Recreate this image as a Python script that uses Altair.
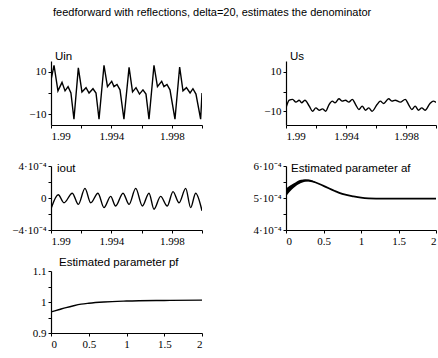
import altair as alt
import pandas as pd

TITLE = "feedforward with reflections, delta=20, estimates the denominator"

# ---- Uin (time, value)
uin_t = [1.99000, 1.99020, 1.99046, 1.99073, 1.99093, 1.99113, 1.99132, 1.99152,
         1.99181, 1.99205, 1.99232, 1.99252, 1.99278, 1.99298, 1.99318,
         1.99351, 1.99374, 1.99402, 1.99417, 1.99437, 1.99457, 1.99483,
         1.99517, 1.99540, 1.99563, 1.99586, 1.99609, 1.99629, 1.99649,
         1.99682, 1.99705, 1.99733, 1.99748, 1.99768, 1.99788, 1.99821,
         1.99852, 1.99874, 1.99897, 1.99921, 1.99940, 1.99960, 1.99991, 2.00000]
uin_v = [6, 13, 1, 5, 1, 3, 0, -12.3,
         11.8, 0.5, 2.5, 0, 2, 0, -12.3,
         13, 3, 5.5, 3, 4, 1.5, -12.3,
         12, 0.5, 2.5, -0.5, 1.5, -0.5, -12.3,
         13, 3, 5.5, 3, 4, 1.5, -12.3,
         12.2, 1, 2.5, 0, 2, -0.5, -12.3, 0]

# ---- Us
us_t = [1.99000, 1.99022, 1.99044, 1.99066, 1.99088, 1.99104, 1.99126, 1.99155,
        1.99177, 1.99199, 1.99221, 1.99243, 1.99265, 1.99287, 1.99309, 1.99327,
        1.99353, 1.99375, 1.99397, 1.99419, 1.99442, 1.99464, 1.99486, 1.99508,
        1.99530, 1.99552, 1.99574, 1.99607, 1.99629, 1.99651, 1.99684, 1.99707,
        1.99728, 1.99762, 1.99795, 1.99817, 1.99839, 1.99861, 1.99883, 1.99905,
        1.99927, 1.99960, 1.99982, 2.00000]
us_v = [-8.3, -4.4, -4.0, -5.4, -4.4, -5.7, -4.4, -7.4,
        -10.0, -8.3, -9.5, -8.8, -10.0, -6.6, -4.9, -5.7,
        -3.7, -4.9, -4.4, -5.4, -4.0, -6.6, -9.1, -7.4,
        -9.5, -8.3, -10.0, -6.6, -4.9, -6.1, -3.7, -4.9,
        -4.4, -5.4, -4.0, -6.6, -9.1, -7.4, -9.5, -8.3,
        -9.5, -6.1, -4.9, -5.5]

# ---- iout
iout_t = [1.99003, 1.99048, 1.99086, 1.99141, 1.99181, 1.99225, 1.99263, 1.99311,
          1.99351, 1.99395, 1.99428, 1.99477, 1.99517, 1.99561, 1.99605, 1.99649,
          1.99682, 1.99726, 1.99770, 1.99808, 1.99848, 1.99892, 1.99925, 1.99958,
          2.00000]
iout_v = [-1.2e-4, 0.4e-4, -0.6e-4, 0.6e-4, -0.8e-4, 1.2e-4, -0.6e-4, 0.6e-4,
          -1.2e-4, 0.2e-4, -1.0e-4, 0.6e-4, -0.8e-4, 1.2e-4, -1.0e-4, 0.6e-4,
          -1.4e-4, 0.2e-4, -1.0e-4, 0.8e-4, -0.6e-4, 1.2e-4, -1.2e-4, 0.6e-4,
          -1.6e-4]

# ---- Estimated parameter af
af_t = [0, 0.05, 0.1, 0.15, 0.2, 0.26, 0.35, 0.5, 0.65, 0.75, 0.9, 1.0, 1.1, 1.3, 1.6, 2.0]
af_v = [5.15e-4, 5.28e-4, 5.38e-4, 5.46e-4, 5.52e-4, 5.55e-4, 5.52e-4, 5.38e-4,
        5.22e-4, 5.13e-4, 5.05e-4, 5.01e-4, 4.99e-4, 4.98e-4, 4.98e-4, 4.98e-4]
afband_t = [0, 0.1, 0.2, 0.3, 0.4]
afband_lo = [5.05e-4, 5.31e-4, 5.47e-4, 5.52e-4, 5.47e-4]
afband_hi = [5.30e-4, 5.45e-4, 5.57e-4, 5.58e-4, 5.49e-4]

# ---- Estimated parameter pf
pf_t = [0, 0.1, 0.2, 0.3, 0.4, 0.5, 0.7, 1.0, 1.5, 2.0]
pf_v = [0.968, 0.975, 0.982, 0.988, 0.993, 0.996, 1.0, 1.003, 1.005, 1.006]

# ---- tick values / labels
time_ticks = [1.99, 1.992, 1.994, 1.996, 1.998, 2.0]
time_labels = ['1.99', '1.994', '1.998']
par_ticks = [0, 0.5, 1, 1.5, 2]
u_ticks = [-10, 0, 10]
iout_ticks = [-4e-4, -2e-4, 0, 2e-4, 4e-4]
af_ticks = [4e-4, 4.5e-4, 5e-4, 5.5e-4, 6e-4]
pf_ticks = [0.9, 0.95, 1.0, 1.05, 1.1]

SERIF = "Liberation Serif, Times New Roman, serif"
SANS = "Liberation Sans, Arial, sans-serif"

def axis(values, expr=None, flush=False):
    kw = dict(values=values, title=None, grid=False, domainColor="black", domainWidth=1.2,
              tickColor="black", tickSize=3, labelPadding=2, labelFont=SERIF,
              labelFontSize=11, labelColor="black", labelOverlap=False)
    if expr:
        kw["labelExpr"] = expr
    if flush:
        kw["labelFlush"] = True
    return alt.Axis(**kw)

time_expr = f"indexof({time_labels!r}, format(datum.value, '.3~f')) >= 0 ? format(datum.value, '.3~f') : ''"
u_expr = "datum.value == 0 ? '' : (datum.value > 0 ? '10' : '\u221210')"
iout_expr = ("abs(datum.value) < 1e-9 ? '0' : (abs(datum.value - 4e-4) < 1e-9 ? '4\u00b710\u207b\u2074' : "
             "(abs(datum.value + 4e-4) < 1e-9 ? '\u22124\u00b710\u207b\u2074' : ''))")
af_expr = ("abs(datum.value - 6e-4) < 1e-9 ? '6\u00b710\u207b\u2074' : (abs(datum.value - 5e-4) < 1e-9 ? "
           "'5\u00b710\u207b\u2074' : (abs(datum.value - 4e-4) < 1e-9 ? '4\u00b710\u207b\u2074' : ''))")
pf_expr = "abs(datum.value - 1.1) < 1e-9 ? '1.1' : (abs(datum.value - 1) < 1e-9 ? '1' : (abs(datum.value - 0.9) < 1e-9 ? '0.9' : ''))"
par_expr = "format(datum.value, '~g')"


def ttl(text, dx, dy, offset=2):
    return alt.TitleParams(text, anchor="start", frame="group", baseline="bottom", dx=dx, dy=dy,
                           offset=offset, font=SANS, fontSize=11.5, fontWeight="normal",
                           color="black")


def enc_xy(xdom, ydom, xaxis, yaxis, ycol="v"):
    return dict(
        x=alt.X("t:Q", scale=alt.Scale(domain=xdom, nice=False, zero=False), axis=xaxis),
        y=alt.Y(f"{ycol}:Q", scale=alt.Scale(domain=ydom, nice=False, zero=False), axis=yaxis),
    )


def line_panel(t, v, xdom, ydom, xaxis, yaxis, title, w, h, interp="linear", sw=1.4):
    df = pd.DataFrame({"t": t, "v": v})
    ch = alt.Chart(df).mark_line(color="black", strokeWidth=sw, interpolate=interp, clip=True).encode(
        **enc_xy(xdom, ydom, xaxis, yaxis)).properties(width=w, height=h)
    if title is not None:
        ch = ch.properties(title=title)
    return ch


W1, W2, H = 151, 150, 64

uin = line_panel(uin_t, uin_v, [1.99, 2.0], [-15, 15], axis(time_ticks, time_expr),
                 axis(u_ticks, u_expr), ttl("Uin", 4, 14), W1, H)
us = line_panel(us_t, us_v, [1.99, 2.0], [-17, 15.5], axis(time_ticks, time_expr),
                axis(u_ticks, u_expr), ttl("Us", 4, 14), W2, H, interp="monotone")
iout = line_panel(iout_t, iout_v, [1.99, 2.0], [-4e-4, 4e-4], axis(time_ticks, time_expr),
                  axis(iout_ticks, iout_expr), ttl("iout", 6, 25, 0), W1, H, interp="monotone")

af_xaxis = axis(par_ticks, par_expr, flush=True)
af_yaxis = axis(af_ticks, af_expr)
af_line = line_panel(af_t, af_v, [0, 2], [4e-4, 6e-4], af_xaxis, af_yaxis, None, W2, H,
                     interp="monotone", sw=1.8)
band_df = pd.DataFrame({"t": afband_t, "lo": afband_lo, "hi": afband_hi})
af_band = alt.Chart(band_df).mark_area(color="black", interpolate="monotone", clip=True).encode(
    y2="hi:Q", **enc_xy([0, 2], [4e-4, 6e-4], af_xaxis, af_yaxis, ycol="lo"))
af = alt.layer(af_line, af_band).properties(
    width=W2, height=H, title=ttl("Estimated parameter af", 5, 25, 0))

pf = line_panel(pf_t, pf_v, [0, 2], [0.9, 1.1], axis(par_ticks, par_expr),
                axis(pf_ticks, pf_expr), ttl("Estimated parameter pf", 8, 14, 0), W1, 62,
                interp="monotone")

chart = alt.concat(uin, us, iout, af, pf, columns=2, spacing={"row": 41, "column": 84},
                   bounds="flush").properties(
    title=alt.TitleParams(TITLE, anchor="middle", font=SANS, fontSize=11, fontWeight="normal",
                          color="black", offset=33, dx=-12),
    padding={"left": 11, "top": 6, "right": 0, "bottom": 0},
    background="white",
).configure_view(stroke=None)

chart.save("out.html", embed_options={"renderer": "svg", "actions": False})
